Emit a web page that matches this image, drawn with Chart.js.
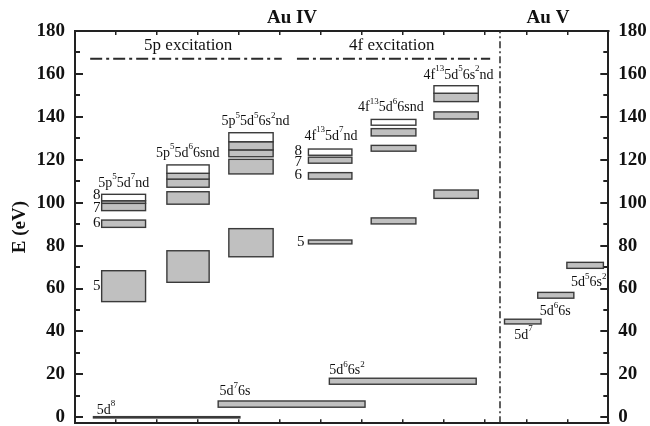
<!DOCTYPE html>
<html lang="en">
<head>
<meta charset="UTF-8">
<title>Au IV / Au V energy levels</title>
<script src="https://cdn.jsdelivr.net/npm/chart.js"></script>
<style>
  html, body { margin: 0; padding: 0; background: #fff; }
  #wrap { width: 650px; height: 426px; }
</style>
</head>
<body>
<div id="wrap"><canvas id="levels"></canvas></div>
<script>
// configurations and the column each one occupies on the index axis
const configLabels = ['5p^{5}5d^{7}nd', '5p^{5}5d^{6}6snd', '5p^{5}5d^{5}6s^{2}nd',
                      '4f^{13}5d^{7}nd', '4f^{13}5d^{6}6snd', '4f^{13}5d^{5}6s^{2}nd',
                      '5d^{8}', '5d^{7}6s', '5d^{6}6s^{2}',
                      '5d^{7}', '5d^{6}6s', '5d^{5}6s^{2}'];
const configFrom = [0.65, 2.24, 3.75, 5.69, 7.22, 8.75, 0.45, 3.49, 6.20, 10.47, 11.28, 11.99];
const configTo   = [1.72, 3.27, 4.83, 6.75, 8.31, 9.83, 4.02, 7.07, 9.78, 11.36, 12.16, 12.88];

// energy bands in eV (one per box), which configuration they belong to
const bandConfig = [0, 0, 0, 0, 0,  1, 1, 1, 1, 1,  2, 2, 2, 2, 2,  3, 3, 3, 3,  4, 4, 4, 4,  5, 5, 5, 5,  6, 7, 8,  9, 10, 11];
const bandLow  = [53.9, 88.5, 96.3, 99.7, 100.9,  62.9, 99.3, 107.2, 111.0, 113.7,  74.8, 113.4, 121.4, 124.6, 128.4,
                  80.8, 111.0, 118.4, 122.1,  90.1, 124.0, 131.1, 136.1,  102.0, 139.0, 147.1, 151.0,
                  -0.3, 4.7, 15.4,  43.5, 55.5, 69.4];
const bandHigh = [68.3, 91.9, 99.7, 100.9, 103.9,  77.6, 105.1, 111.0, 113.7, 117.6,  87.9, 120.2, 124.6, 128.4, 132.6,
                  82.6, 114.0, 121.2, 125.0,  92.9, 126.7, 134.5, 138.8,  105.9, 142.3, 151.0, 154.5,
                  0.3, 7.6, 18.2,  45.7, 58.2, 72.2];
// top band of each excited configuration is drawn open
const bandOpen = [0, 0, 0, 0, 1,  0, 0, 0, 0, 1,  0, 0, 0, 0, 1,  0, 0, 0, 1,  0, 0, 0, 1,  0, 0, 0, 1,  0, 0, 0,  0, 0, 0];

// ionisation limit markers
const limitEnergy = 167.1;
const limitFrom = [0.37, 5.41];
const limitTo = [5.04, 10.12];
const stageDivider = 10.36;

// axis ticks
const energyTicks = [0, 20, 40, 60, 80, 100, 120, 140, 160, 180];
const energyMinorTicks = [10, 30, 50, 70, 90, 110, 130, 150, 170];
const indexTicks = [1, 2, 3, 4, 5, 6, 7, 8, 9, 10, 11, 12];

// texts placed in data units: [text, x, E, align, size]
const notes = [
  ['5p excitation', 2.76, 173.3, 'center', 17],
  ['4f excitation', 7.72, 173.3, 'center', 17],
  [configLabels[0], 1.19, 109.2, 'center', 14],
  [configLabels[1], 2.75, 123.2, 'center', 14],
  [configLabels[2], 4.40, 137.7, 'center', 14],
  [configLabels[3], 6.24, 131.1, 'center', 14],
  [configLabels[4], 7.70, 144.5, 'center', 14],
  [configLabels[5], 9.35, 159.5, 'center', 14],
  [configLabels[6], 0.53, 3.4, 'left', 14],
  [configLabels[7], 3.52, 11.9, 'left', 14],
  [configLabels[8], 6.20, 22.0, 'left', 14],
  [configLabels[9], 10.71, 38.4, 'left', 14],
  [configLabels[10], 11.33, 49.2, 'left', 14],
  [configLabels[11], 12.09, 62.9, 'left', 14],
  ['8', 0.53, 103.6, 'center', 15], ['7', 0.53, 97.4, 'center', 15],
  ['6', 0.53, 90.5, 'center', 15], ['5', 0.53, 61.1, 'center', 15],
  ['8', 5.44, 124.2, 'center', 15], ['7', 5.44, 119.1, 'center', 15],
  ['6', 5.44, 112.9, 'center', 15], ['5', 5.50, 81.5, 'center', 15]
];
const stageTitles = [['Au IV', 5.29, 186.1], ['Au V', 11.53, 186.1]];

const SERIF = '"Liberation Serif", "Times New Roman", serif';

function richParts(str) {
  const parts = [];
  const re = /\^\{([^}]*)\}|([^^]+)/g;
  let m;
  while ((m = re.exec(str)) !== null) {
    if (m[1] !== undefined) parts.push({t: m[1], sup: true});
    else parts.push({t: m[2], sup: false});
  }
  return parts;
}

function drawRich(ctx, str, x, y, align, size) {
  const parts = richParts(str);
  const supSize = Math.round(size * 0.62);
  let total = 0;
  parts.forEach(p => {
    ctx.font = (p.sup ? supSize : size) + 'px ' + SERIF;
    p.w = ctx.measureText(p.t).width;
    total += p.w;
  });
  let cx = align === 'center' ? x - total / 2 : x;
  ctx.textAlign = 'left';
  ctx.textBaseline = 'middle';
  parts.forEach(p => {
    ctx.font = (p.sup ? supSize : size) + 'px ' + SERIF;
    ctx.fillText(p.t, cx, p.sup ? y - size * 0.42 : y);
    cx += p.w;
  });
}

const levelBoxes = {
  id: 'levelBoxes',
  beforeDatasetsDraw(chart) {
    const {ctx, scales: {x, y}} = chart;
    ctx.save();
    ctx.lineWidth = 1.4;
    ctx.strokeStyle = '#3a3a3a';
    bandLow.forEach((lo, i) => {
      const c = bandConfig[i];
      const left = x.getPixelForValue(configFrom[c]);
      const right = x.getPixelForValue(configTo[c]);
      const top = y.getPixelForValue(bandHigh[i]);
      const bottom = y.getPixelForValue(lo);
      ctx.fillStyle = bandOpen[i] ? '#ffffff' : '#c0c0c0';
      ctx.fillRect(left, top, right - left, bottom - top);
      ctx.strokeRect(left, top, right - left, bottom - top);
    });
    ctx.restore();
  },
  afterDraw(chart) {
    const {ctx, scales: {x, y}} = chart;
    ctx.save();
    ctx.fillStyle = '#111';
    notes.forEach(n => {
      drawRich(ctx, n[0], x.getPixelForValue(n[1]), y.getPixelForValue(n[2]), n[3], n[4]);
    });
    ctx.font = 'bold 19px ' + SERIF;
    ctx.textAlign = 'center';
    ctx.textBaseline = 'middle';
    stageTitles.forEach(t => {
      ctx.fillText(t[0], x.getPixelForValue(t[1]), y.getPixelForValue(t[2]));
    });
    ctx.restore();
  }
};

const lineStyle = {
  type: 'scatter', showLine: true, pointRadius: 0, borderColor: '#2a2a2a', fill: false
};
const datasets = limitFrom.map((f, i) => Object.assign({}, lineStyle, {
  data: [{x: f, y: limitEnergy}, {x: limitTo[i], y: limitEnergy}],
  borderWidth: 2, borderDash: [12, 4, 3, 4]
}));
datasets.push(Object.assign({}, lineStyle, {
  data: [{x: stageDivider, y: -2.8}, {x: stageDivider, y: 180}],
  borderWidth: 1.5, borderDash: [7, 3, 2, 3]
}));

const yMin = -2.8, yMax = 180;
const useTicks = values => s => { s.ticks = values.map(v => ({value: v})); };
const tickFont = {family: SERIF, size: 19, weight: 'bold'};

function yAxis(position, major) {
  return {
    type: 'linear', position: position, min: yMin, max: yMax,
    weight: major ? 1 : 0,
    afterBuildTicks: useTicks(major ? energyTicks : energyMinorTicks),
    afterFit: s => {
      s.width = major ? (position === 'left' ? 75 : 41.7) : 0;
      s.paddingTop = 0;
      s.paddingBottom = 0;
    },
    border: {display: true, color: '#222', width: 2},
    grid: {drawOnChartArea: false, color: '#222', lineWidth: 2, tickLength: major ? -8 : -5},
    ticks: {display: major, padding: 18, color: '#111', font: tickFont},
    title: {display: major && position === 'left', text: 'E (eV)', color: '#111',
            font: {family: SERIF, size: 19, weight: 'bold'}, padding: {top: 9, bottom: 0}}
  };
}

function xAxis(position) {
  return {
    type: 'linear', position: position, min: 0, max: 13,
    afterBuildTicks: useTicks(indexTicks),
    afterFit: s => { s.height = 0; s.paddingLeft = 0; s.paddingRight = 0; },
    border: {display: true, color: '#222', width: 2},
    grid: {drawOnChartArea: false, color: '#222', lineWidth: 1.5, tickLength: -4},
    ticks: {display: false}
  };
}

new Chart(document.getElementById('levels'), {
  type: 'scatter',
  data: {datasets: datasets},
  options: {
    responsive: true,
    maintainAspectRatio: false,
    animation: false,
    layout: {padding: {top: 31, bottom: 2.7, left: 0, right: 0}},
    plugins: {legend: {display: false}, tooltip: {enabled: false}},
    scales: {
      x: xAxis('bottom'),
      xTop: xAxis('top'),
      y: yAxis('left', true),
      yMinor: yAxis('left', false),
      yRight: yAxis('right', true),
      yRightMinor: yAxis('right', false)
    }
  },
  plugins: [levelBoxes]
});
</script>
</body>
</html>
